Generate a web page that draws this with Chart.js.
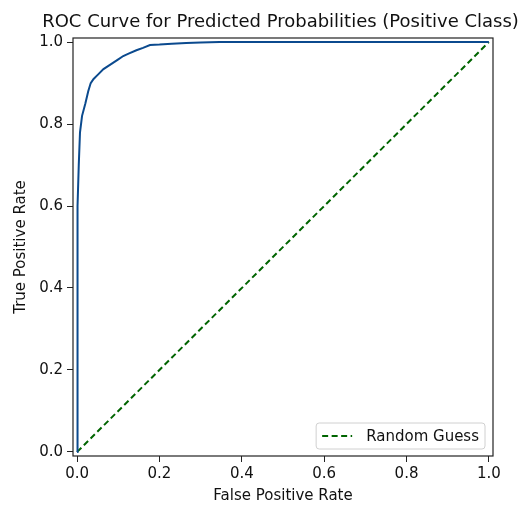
<!DOCTYPE html>
<html>
<head>
<meta charset="utf-8">
<script src="https://cdn.jsdelivr.net/npm/chart.js@4.4.1/dist/chart.umd.min.js"></script>
<style>
  html, body { margin: 0; padding: 0; background: #fff; }
  #wrap { width: 531px; height: 507px; }
</style>
</head>
<body>
<div id="wrap"><canvas id="rocChart" width="531" height="507"></canvas></div>
<script>
// ROC curve values
const fpr = [0, 0, 0.001, 0.002, 0.004, 0.007, 0.012, 0.02, 0.027, 0.033, 0.04, 0.05, 0.064, 0.076,
    0.088, 0.1, 0.112, 0.125, 0.144, 0.16, 0.177, 0.2, 0.23, 0.265, 0.3, 0.346, 1.0];
const tpr = [0, 0.4, 0.46, 0.6, 0.7, 0.78, 0.82, 0.85, 0.88, 0.9, 0.91, 0.92, 0.934, 0.942,
    0.95, 0.958, 0.966, 0.972, 0.98, 0.986, 0.993, 0.994, 0.996, 0.998, 0.999, 1.0, 1.0];
const guessX = [0, 1];
const guessY = [0, 1];
const tickValues = [0, 0.2, 0.4, 0.6, 0.8, 1.0];
const chartTitle = 'ROC Curve for Predicted Probabilities (Positive Class)';

const FONT = 'DejaVu Sans';

// black frame round the plot, like matplotlib spines
const framePlugin = {
    id: 'frame',
    afterDraw(chart) {
        const a = chart.chartArea;
        const ctx = chart.ctx;
        ctx.save();
        ctx.strokeStyle = '#222';
        ctx.lineWidth = 1.2;
        ctx.strokeRect(a.left, a.top, a.right - a.left, a.bottom - a.top);
        ctx.restore();
    }
};

// title is wider than the plot, so it is drawn here (built-in one squeezes it)
const titlePlugin = {
    id: 'wideTitle',
    afterDraw(chart) {
        const ctx = chart.ctx;
        ctx.save();
        ctx.font = '18px ' + FONT;
        ctx.fillStyle = '#111';
        ctx.textAlign = 'center';
        ctx.textBaseline = 'middle';
        ctx.fillText(chartTitle, 280.5, 22);
        ctx.restore();
    }
};

// legend box inside the lower right corner
const legendBoxPlugin = {
    id: 'legendBox',
    afterDraw(chart) {
        const ds = chart.data.datasets[1];
        const a = chart.chartArea;
        const ctx = chart.ctx;
        ctx.save();
        ctx.font = '15px ' + FONT;
        const textW = ctx.measureText(ds.label).width;
        const w = textW + 56;
        const h = 26;
        const x = a.right - 8 - w;
        const y = a.bottom - 7 - h;
        ctx.beginPath();
        ctx.roundRect(x, y, w, h, 3);
        ctx.fillStyle = 'rgba(255,255,255,0.8)';
        ctx.fill();
        ctx.strokeStyle = '#d0d0d0';
        ctx.lineWidth = 1;
        ctx.stroke();
        ctx.beginPath();
        ctx.setLineDash(ds.borderDash);
        ctx.strokeStyle = ds.borderColor;
        ctx.lineWidth = ds.borderWidth;
        ctx.moveTo(x + 6, y + h / 2);
        ctx.lineTo(x + 36, y + h / 2);
        ctx.stroke();
        ctx.setLineDash([]);
        ctx.fillStyle = '#111';
        ctx.textBaseline = 'middle';
        ctx.fillText(ds.label, x + 50, y + h / 2 + 1);
        ctx.restore();
    }
};

const ctx = document.getElementById('rocChart').getContext('2d');
const rocChart = new Chart(ctx, {
    type: 'line',
    data: {
        datasets: [
            {
                label: 'ROC Curve',
                data: fpr.map((v, i) => ({ x: v, y: tpr[i] })),
                borderColor: '#0b4a8e',
                borderWidth: 2,
                pointRadius: 0,
                fill: false,
                tension: 0,
            },
            {
                label: 'Random Guess',
                data: guessX.map((v, i) => ({ x: v, y: guessY[i] })),
                borderColor: '#006400',
                borderWidth: 2,
                borderDash: [6, 3.5],
                pointRadius: 0,
                fill: false,
            },
        ],
    },
    options: {
        responsive: false,
        animation: false,
        layout: { padding: { left: 10, right: 38, top: 38, bottom: 0 } },
        plugins: {
            legend: { display: false },
            tooltip: { enabled: false },
            title: { display: false },
        },
        scales: {
            x: {
                type: 'linear',
                min: -0.01,
                max: 1.01,
                afterBuildTicks: (s) => { s.ticks = tickValues.map(v => ({ value: v })); },
                afterFit: (s) => { s.height = 51; },
                grid: { drawOnChartArea: false, drawTicks: true, tickLength: 6, color: '#222' },
                border: { display: false },
                ticks: {
                    color: '#111',
                    font: { family: FONT, size: 15 },
                    padding: 3,
                    maxRotation: 0,
                    callback: (v) => v.toFixed(1),
                },
                title: {
                    display: true,
                    text: 'False Positive Rate',
                    color: '#111',
                    font: { family: FONT, size: 15 },
                    padding: { top: 2, bottom: 2 },
                },
            },
            y: {
                type: 'linear',
                min: -0.01,
                max: 1.01,
                afterBuildTicks: (s) => { s.ticks = tickValues.map(v => ({ value: v })); },
                afterFit: (s) => { s.width = 63; },
                grid: { drawOnChartArea: false, drawTicks: true, tickLength: 6, color: '#222' },
                border: { display: false },
                ticks: {
                    color: '#111',
                    font: { family: FONT, size: 15 },
                    padding: 4,
                    callback: (v) => v.toFixed(1),
                },
                title: {
                    display: true,
                    text: 'True Positive Rate',
                    color: '#111',
                    font: { family: FONT, size: 15 },
                    padding: { top: 2, bottom: 0 },
                },
            },
        },
    },
    plugins: [framePlugin, titlePlugin, legendBoxPlugin],
});
</script>
</body>
</html>
